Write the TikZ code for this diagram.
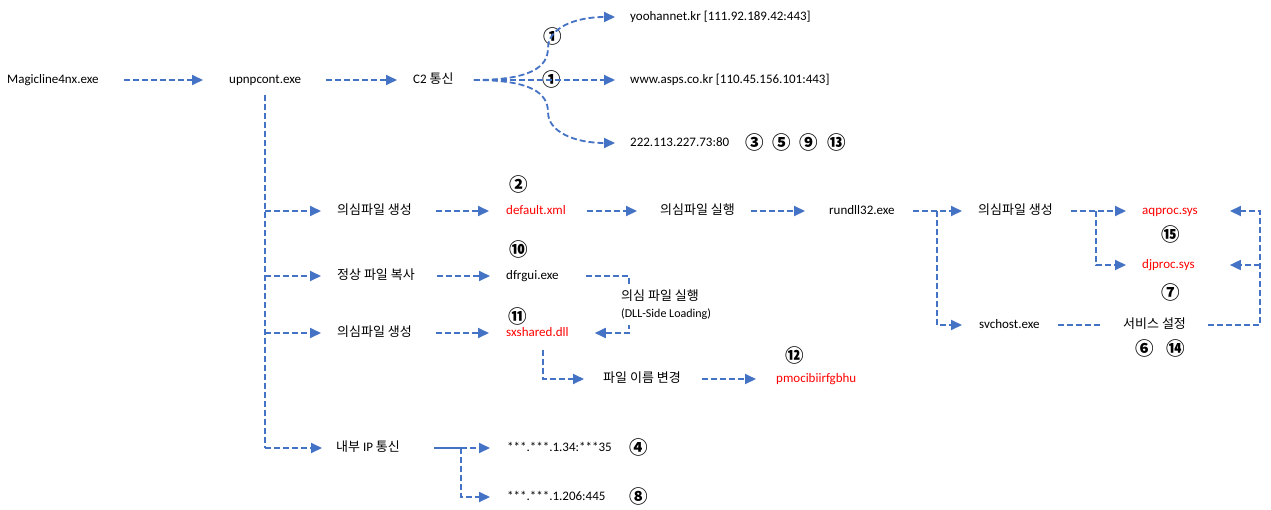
\documentclass[tikz,border=0pt]{standalone}
\usepackage{fontspec}
\setmainfont{Carlito}
\newfontfamily\kr{Noto Sans CJK KR}
\usetikzlibrary{arrows.meta, calc}
\definecolor{flowblue}{RGB}{68,114,196}
\definecolor{malred}{RGB}{255,0,0}

\begin{document}
\begin{tikzpicture}[
    x=1pt, y=-1pt,
    lbl/.style={anchor=west, inner sep=0pt, text height=9pt, text depth=3pt, font=\fontsize{13}{15}\selectfont},
    mal/.style={lbl, text=malred},
    num/.style={inner sep=0pt, font=\kr\bfseries\fontsize{18.5}{18.5}\selectfont},
    note/.style={anchor=west, align=left, fill=white, inner xsep=1pt, inner ysep=5pt, font=\fontsize{13}{17}\selectfont},
    link/.style={draw=flowblue, line width=1.8pt, dash pattern=on 6pt off 3pt},
    flow/.style={link, -{Triangle[length=11pt, width=10pt]}},
    plainlink/.style={draw=flowblue, line width=1.8pt}
]
    \useasboundingbox (0,0) rectangle (1271,509);

    % Main chain
    \node[lbl] (magic) at (7,80) {Magicline4nx.exe};
    \node[lbl] (upnp) at (229,80) {upnpcont.exe};
    \node[lbl] (c2) at (413,80) {C2 {\kr 통신}};

    % C2 servers
    \node[lbl] (yoohan) at (630,17) {yoohannet.kr [111.92.189.42:443]};
    \node[lbl] (asps) at (630,80) {www.asps.co.kr [110.45.156.101:443]};
    \node[lbl] (c2ip) at (630,143) {222.113.227.73:80};
    \coordinate (upbend) at (548,48);
    \coordinate (lowbend) at (548,112);

    % Dropped files
    \node[lbl] (create1) at (337,211) {\kr 의심파일 생성};
    \node[mal] (default) at (506,211) {default.xml};
    \node[lbl] (exec1) at (660,211) {\kr 의심파일 실행};
    \node[lbl] (rundll) at (829,211) {rundll32.exe};
    \node[lbl] (create2) at (978,211) {\kr 의심파일 생성};
    \node[mal] (aqproc) at (1142,211) {aqproc.sys};
    \node[mal] (djproc) at (1142,265) {djproc.sys};
    \node[lbl] (svchost) at (979,325) {svchost.exe};
    \node[lbl] (svc) at (1123,325) {\kr 서비스 설정};

    \node[lbl] (copy) at (337,276) {\kr 정상 파일 복사};
    \node[lbl] (dfrgui) at (506,276) {dfrgui.exe};
    \node[lbl] (create3) at (337,333) {\kr 의심파일 생성};
    \node[mal] (sxshared) at (506,333) {sxshared.dll};
    \node[lbl] (rename) at (603,379) {\kr 파일 이름 변경};
    \node[mal] (pmoci) at (776,379) {pmocibiirfgbhu};

    % Internal network
    \node[lbl] (ipcomm) at (336,448) {{\kr 내부} IP {\kr 통신}};
    \node[lbl] (ip1) at (507,448) {***.***.1.34:***35};
    \node[lbl] (ip2) at (507,497) {***.***.1.206:445};

    % Step numbers
    \node[num] (n1a) at (553,36) {①};
    \node[num] (n1b) at (552,79) {①};
    \node[num] (n3) at (755,142) {③};
    \node[num] (n5) at (782,142) {⑤};
    \node[num] (n9) at (809,142) {⑨};
    \node[num] (n13) at (837,142) {⑬};
    \node[num] (n2) at (519,184) {②};
    \node[num] (n10) at (519,249) {⑩};
    \node[num] (n11) at (518,316) {⑪};
    \node[num] (n12) at (795,355) {⑫};
    \node[num] (n15) at (1171,234) {⑮};
    \node[num] (n7) at (1171,292) {⑦};
    \node[num] (n6) at (1145,348) {⑥};
    \node[num] (n14) at (1176,348) {⑭};
    \node[num] (n4) at (639,447) {④};
    \node[num] (n8) at (639,496) {⑧};

    % Arrows
    \draw[flow] ([xshift=25pt]magic.east) -- ([xshift=-26pt]upnp.west);
    \draw[flow] ([xshift=25pt]upnp.east) -- ([xshift=-16pt]c2.west);
    \draw[flow] ([xshift=20pt]c2.east) .. controls +(55,0) and +(0,20) .. (upbend)
        .. controls +(0,-20) and +(-40,0) .. ([xshift=-15pt]yoohan.west);
    \draw[flow] ([xshift=20pt]c2.east) -- ([xshift=-15pt]asps.west);
    \draw[flow] ([xshift=20pt]c2.east) .. controls +(55,0) and +(0,-20) .. (lowbend)
        .. controls +(0,20) and +(-40,0) .. ([xshift=-15pt]c2ip.west);

    \draw[link] ([yshift=-9pt]upnp.south) -- (upnp.south |- ipcomm.west);
    \draw[flow] (upnp.south |- create1.west) -- ([xshift=-16pt]create1.west);
    \draw[flow] (upnp.south |- copy.west) -- ([xshift=-16pt]copy.west);
    \draw[flow] (upnp.south |- create3.west) -- ([xshift=-16pt]create3.west);
    \draw[flow] (upnp.south |- ipcomm.west) -- ([xshift=-14pt]ipcomm.west);

    \draw[flow] ([xshift=24pt]create1.east) -- ([xshift=-17pt]default.west);
    \draw[flow] ([xshift=21pt]default.east) -- ([xshift=-23pt]exec1.west);
    \draw[flow] ([xshift=16pt]exec1.east) -- ([xshift=-24pt]rundll.west);
    \draw[flow] ([xshift=18pt]rundll.east) -- ([xshift=-16pt]create2.west);
    \draw[flow] ([xshift=42pt]rundll.east) |- ([xshift=-17pt]svchost.west);
    \draw[flow] ([xshift=18pt]create2.east) -- ([xshift=-16pt]aqproc.west);
    \draw[flow] ([xshift=43pt]create2.east) |- ([xshift=-16pt]djproc.west);
    \draw[link] ([xshift=18pt]svchost.east) -- ([xshift=-21pt]svc.west);
    \draw[flow] ([xshift=22pt]svc.east) -- ++(52,0) coordinate (backup) |- ([xshift=32pt]aqproc.east);
    \draw[flow] (backup |- djproc.east) -- ([xshift=35pt]djproc.east);

    \draw[flow] ([xshift=22pt]copy.east) -- ([xshift=-16pt]dfrgui.west);
    \draw[flow] ([xshift=27pt]dfrgui.east) -- ++(43,0) |- ([xshift=26pt]sxshared.east);
    \node[note] (sideload) at (620,305) {{\kr 의심 파일 실행}\\{\fontsize{12}{14}\selectfont(DLL-Side Loading)}};
    \draw[flow] ([xshift=24pt]create3.east) -- ([xshift=-17pt]sxshared.west);
    \draw[flow] ([xshift=5.5pt, yshift=-11pt]sxshared.south) |- ([xshift=-19pt]rename.west);
    \draw[flow] ([xshift=21pt]rename.east) -- ([xshift=-20pt]pmoci.west);

    \draw[plainlink] ([xshift=34pt]ipcomm.east) -- ++(27,0) coordinate (ipfork);
    \draw[flow] (ipfork) -- ([xshift=-17pt]ip1.west);
    \draw[flow] (ipfork) |- ([xshift=-17pt]ip2.west);
\end{tikzpicture}
\end{document}
